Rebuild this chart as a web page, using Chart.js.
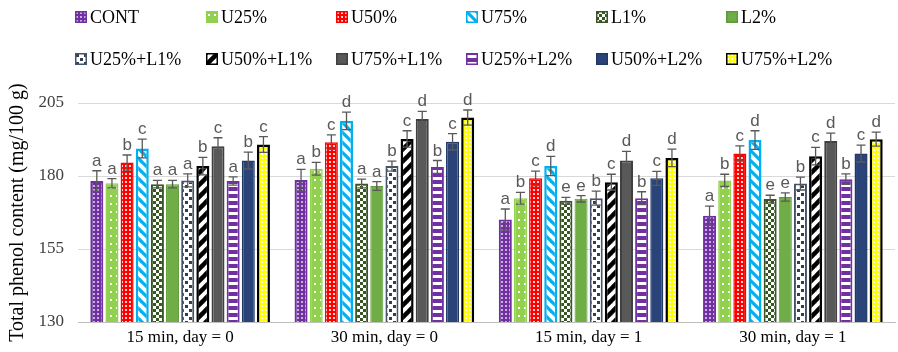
<!DOCTYPE html>
<html>
<head>
<meta charset="utf-8">
<script src="https://cdn.jsdelivr.net/npm/chart.js@4.4.1/dist/chart.umd.min.js"></script>
<style>
  html, body { margin: 0; padding: 0; background: #fff; }
  #wrap { position: relative; width: 898px; height: 352px; }
  #chart { position: absolute; left: 0; top: 0; }
  #legend { position: absolute; left: 0; top: 0; width: 898px; height: 80px;
            font-family: "Liberation Serif", "Times New Roman", serif; font-size: 18px; color: #000; }
  .item { position: absolute; display: flex; align-items: center; white-space: nowrap; height: 20px; }
  .item canvas { margin-right: 3px; }
</style>
</head>
<body>
<div id="wrap">
  <canvas id="chart" width="898" height="352"></canvas>
  <div id="legend"></div>
</div>
<script>
// Groups on the x axis
const categories = ['15 min, day = 0', '30 min, day = 0', '15 min, day = 1', '30 min, day = 1'];
// Treatments (one bar series each)
const treatments = ['CONT', 'U25%', 'U50%', 'U75%', 'L1%', 'L2%',
                    'U25%+L1%', 'U50%+L1%', 'U75%+L1%', 'U25%+L2%', 'U50%+L2%', 'U75%+L2%'];

// Mean total phenol content (mg/100 g), one value per treatment
const mean15d0 = [178.3, 177.5, 184.6, 189.4, 177.2, 177.2, 178.5, 183.4, 190.2, 178.3, 185.3, 190.8];
const mean30d0 = [178.6, 182.5, 191.6, 198.9, 177.4, 176.6, 183.4, 192.7, 199.5, 183.1, 191.7, 200.0];
const mean15d1 = [165.1, 172.4, 179.2, 183.4, 171.5, 172.2, 172.4, 177.9, 185.3, 172.4, 179.2, 186.2];
const mean30d1 = [166.4, 178.5, 187.7, 192.3, 172.1, 172.8, 177.4, 186.8, 192.0, 178.9, 187.7, 192.6];

// Standard deviations
const sd15d0 = [3.5, 1.6, 2.6, 3.2, 1.3, 1.3, 2.2, 3.0, 2.9, 1.4, 2.9, 2.7];
const sd30d0 = [3.7, 2.2, 2.5, 3.0, 1.5, 1.5, 1.7, 2.8, 2.6, 2.2, 2.8, 2.6];
const sd15d1 = [3.6, 2.0, 2.5, 3.3, 1.2, 1.1, 2.4, 2.7, 3.1, 2.2, 2.4, 3.0];
const sd30d1 = [3.3, 2.1, 2.6, 3.2, 1.3, 1.4, 2.2, 3.0, 2.7, 1.8, 2.9, 2.4];

// Significance letters
const sig15d0 = ['a', 'a', 'b', 'c', 'a', 'a', 'a', 'b', 'c', 'a', 'b', 'c'];
const sig30d0 = ['a', 'b', 'c', 'd', 'a', 'a', 'b', 'c', 'd', 'b', 'c', 'd'];
const sig15d1 = ['a', 'b', 'c', 'd', 'e', 'e', 'b', 'c', 'd', 'b', 'c', 'd'];
const sig30d1 = ['a', 'b', 'c', 'd', 'e', 'e', 'b', 'c', 'd', 'b', 'c', 'd'];

// Y axis ticks
const yTicks = [130, 155, 180, 205];

const means = [mean15d0, mean30d0, mean15d1, mean30d1];
const sds = [sd15d0, sd30d0, sd15d1, sd30d1];
const sigs = [sig15d0, sig30d0, sig15d1, sig30d1];

// ---- fill patterns ----
function makeTile(w, h, draw) {
  const c = document.createElement('canvas');
  c.width = w; c.height = h;
  const g = c.getContext('2d');
  draw(g, w, h);
  return c;
}
function dots(bg, fg, w, h, pts, size) {
  return makeTile(w, h, (g) => {
    g.fillStyle = bg; g.fillRect(0, 0, w, h);
    g.fillStyle = fg;
    pts.forEach(p => g.fillRect(p[0], p[1], size, size));
  });
}
function stripes(bg, fg, s, lw, dir) {
  return makeTile(s, s, (g) => {
    g.fillStyle = bg; g.fillRect(0, 0, s, s);
    g.strokeStyle = fg; g.lineWidth = lw; g.lineCap = 'square';
    for (let k = -1; k <= 1; k++) {
      g.beginPath();
      if (dir === 'back') { g.moveTo(k * s, 0); g.lineTo(k * s + s, s); }
      else { g.moveTo(k * s, s); g.lineTo(k * s + s, 0); }
      g.stroke();
    }
  });
}
function hstripes(bg, fg, h, sh) {
  return makeTile(4, h, (g) => {
    g.fillStyle = bg; g.fillRect(0, 0, 4, h);
    g.fillStyle = fg; g.fillRect(0, 2, 4, sh);
  });
}
function checker(a, b, cell) {
  return makeTile(cell * 2, cell * 2, (g) => {
    g.fillStyle = b; g.fillRect(0, 0, cell * 2, cell * 2);
    g.fillStyle = a; g.fillRect(0, 0, cell, cell); g.fillRect(cell, cell, cell, cell);
  });
}
function solid(c) { return makeTile(2, 2, (g) => { g.fillStyle = c; g.fillRect(0, 0, 2, 2); }); }

const tiles = [
  dots('#7030A0', '#C7AEE0', 4, 4, [[1, 1]], 2),                 // CONT
  dots('#92D050', '#FFFFFF', 6, 8, [[2, 3]], 2),                 // U25%
  dots('#FF0000', '#FFD0D0', 4, 4, [[1, 1]], 2),                 // U50%
  stripes('#FFFFFF', '#00B0F0', 10, 3.2, 'back'),                // U75%
  checker('#375623', '#FFFFFF', 3),                              // L1%
  solid('#70AD47'),                                              // L2%
  dots('#FFFFFF', '#333F50', 8, 8, [[1, 1], [5, 5]], 3),         // U25%+L1%
  stripes('#FFFFFF', '#000000', 12, 4.5, 'fwd'),                 // U50%+L1%
  solid('#595959'),                                              // U75%+L1%
  hstripes('#7030A0', '#FFFFFF', 7, 3),                          // U25%+L2%
  solid('#2A4479'),                                              // U50%+L2%
  dots('#FFFF00', '#FFFFFF', 4, 4, [[1, 1]], 2)                  // U75%+L2%
];
const borders = ['#7030A0', '#92D050', '#FF0000', '#00B0F0', '#375623', '#5E9A3A',
                 '#44546A', '#000000', '#404040', '#7030A0', '#203864', '#000000'];
const borderW = [2, 1.5, 1.5, 2.5, 2, 1, 2, 2.5, 2, 2, 1.5, 2.5];

const ctx = document.getElementById('chart').getContext('2d');
const patterns = tiles.map(t => ctx.createPattern(t, 'repeat'));

const datasets = treatments.map((name, i) => ({
  label: name,
  data: means.map(m => m[i]),
  backgroundColor: patterns[i],
  borderColor: borders[i],
  borderWidth: borderW[i],
  borderSkipped: false,
  categoryPercentage: 0.89,
  barPercentage: 0.86
}));

// Error bars and significance letters
const errorBars = {
  id: 'errorBars',
  afterDatasetsDraw(chart) {
    const g = chart.ctx;
    const y = chart.scales.y;
    g.save();
    chart.data.datasets.forEach((ds, i) => {
      const meta = chart.getDatasetMeta(i);
      meta.data.forEach((bar, j) => {
        const m = means[j][i], s = sds[j][i];
        const top = y.getPixelForValue(m + s);
        const bot = y.getPixelForValue(m - s);
        const x = bar.x;
        g.strokeStyle = '#595959';
        g.lineWidth = 1.3;
        g.beginPath();
        g.moveTo(x, top); g.lineTo(x, bot);
        g.moveTo(x - 4.5, top); g.lineTo(x + 4.5, top);
        g.moveTo(x - 4.5, bot); g.lineTo(x + 4.5, bot);
        g.stroke();
        g.fillStyle = '#595959';
        g.font = '17px "Liberation Sans", Arial, sans-serif';
        g.textAlign = 'center';
        g.textBaseline = 'alphabetic';
        g.fillText(sigs[j][i], x, top - 5);
      });
    });
    g.restore();
  }
};

new Chart(ctx, {
  type: 'bar',
  data: { labels: categories, datasets },
  options: {
    responsive: false,
    animation: false,
    layout: { padding: { top: 103, right: 3, bottom: 0, left: 0 } },
    plugins: { legend: { display: false }, tooltip: { enabled: false } },
    scales: {
      x: {
        grid: { display: false, drawTicks: false },
        border: { display: true, color: '#BFBFBF', width: 1 },
        ticks: {
          color: '#000',
          padding: 5,
          font: { family: '"Liberation Serif", "Times New Roman", serif', size: 17 }
        },
        afterFit(scale) { scale.height = 30; }
      },
      y: {
        min: 130, max: 205,
        afterBuildTicks(scale) { scale.ticks = yTicks.map(v => ({ value: v })); },
        grid: { color: '#D9D9D9', lineWidth: 1, drawTicks: false },
        border: { display: false },
        ticks: {
          color: '#404040',
          padding: 14,
          font: { family: '"Liberation Serif", "Times New Roman", serif', size: 17 }
        },
        title: {
          display: true,
          text: 'Total phenol content (mg/100 g)',
          color: '#000',
          padding: { top: 6, bottom: 2 },
          font: { family: '"Liberation Serif", "Times New Roman", serif', size: 20 }
        },
        afterFit(scale) { scale.width = 78; }
      }
    }
  },
  plugins: [errorBars]
});

// Two-row legend, six columns
const legend = document.getElementById('legend');
const colX = [75, 206, 336, 466, 596, 726];
const rowY = [7, 49];
treatments.forEach((name, i) => {
  const item = document.createElement('div');
  item.className = 'item';
  item.style.left = colX[i % 6] + 'px';
  item.style.top = rowY[Math.floor(i / 6)] + 'px';
  const sw = document.createElement('canvas');
  sw.width = 12; sw.height = 12;
  const sg = sw.getContext('2d');
  sg.fillStyle = sg.createPattern(tiles[i], 'repeat');
  sg.fillRect(0, 0, 12, 12);
  sg.strokeStyle = borders[i];
  sg.lineWidth = 1.5;
  sg.strokeRect(0.75, 0.75, 10.5, 10.5);
  item.appendChild(sw);
  const t = document.createElement('span');
  t.textContent = name;
  item.appendChild(t);
  legend.appendChild(item);
});
</script>
</body>
</html>
